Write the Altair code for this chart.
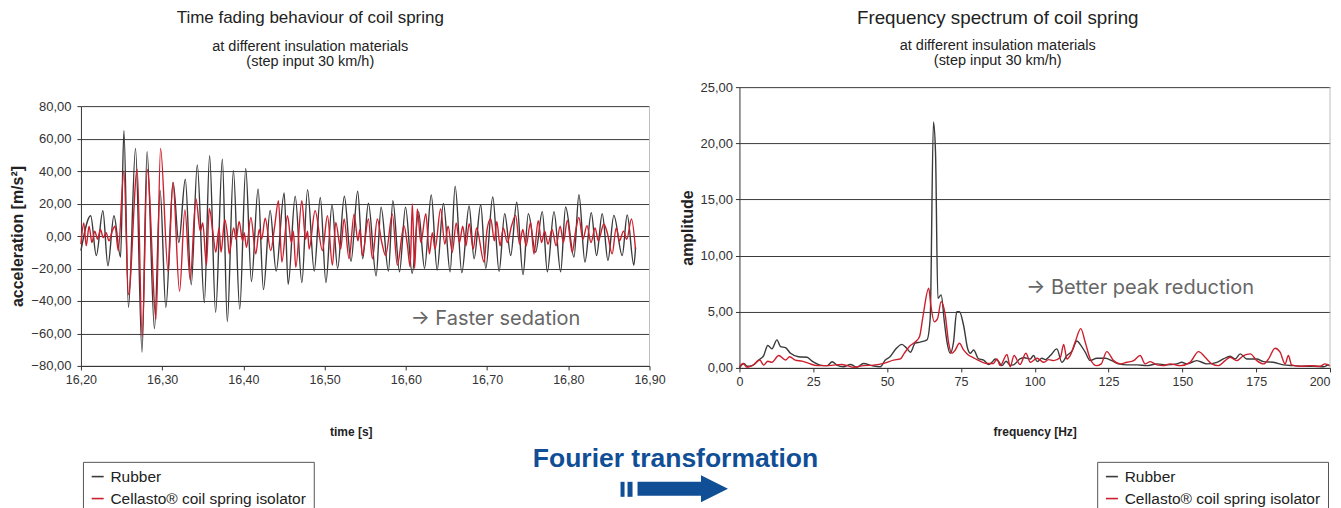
import altair as alt
import pandas as pd

FONT = "Liberation Sans"
SERIES = ["Rubber", "Cellasto® coil spring isolator"]
COLORS = ["#3a3a3a", "#cc1f2d"]

# ---------------- time signal ----------------
rubber_time = [16.2000, 16.2120, 16.2189, 16.2270, 16.2332, 16.2406, 16.2488, 16.2529, 16.2585, 16.2672,
               16.2752, 16.2814, 16.2905, 16.2975, 16.3045, 16.3135, 16.3205, 16.3285, 16.3358, 16.3432,
               16.3519, 16.3584, 16.3658, 16.3741, 16.3802, 16.3877, 16.3955, 16.4029, 16.4099, 16.4181,
               16.4247, 16.4329, 16.4403, 16.4502, 16.4551, 16.4638, 16.4720, 16.4790, 16.4872, 16.4947,
               16.5016, 16.5091, 16.5160, 16.5243, 16.5325, 16.5407, 16.5469, 16.5539, 16.5634, 16.5695,
               16.5786, 16.5840, 16.5922, 16.5996, 16.6078, 16.6156, 16.6230, 16.6313, 16.6385, 16.6463,
               16.6545, 16.6607, 16.6689, 16.6779, 16.6840, 16.6922, 16.6984, 16.7070, 16.7148, 16.7217,
               16.7291, 16.7365, 16.7443, 16.7508, 16.7598, 16.7680, 16.7742, 16.7824, 16.7906, 16.7967,
               16.8070, 16.8131, 16.8205, 16.8283, 16.8348, 16.8418, 16.8488, 16.8561, 16.8664, 16.8725,
               16.8807, 16.8828]
rubber_acc = [-9, 12.5, -12, 15.6, -18.3, 12.5, -13, 64.8, -44, 54,
              -71.5, 52, -57, 28, -44, 33, -4, 35, -30, 43.7,
              -41, 49.4, -47, 47.3, -52.7, 40.2, -45, 41.6, -28, 29,
              -33, 15.7, -21.6, 26.5, -29.8, 24.5, -28.6, 28.6, -21.6, 23.7,
              -28.6, 19.2, -20, 24.5, -15.5, 27.6, -14, 20.2, -24.5, 17.8,
              -21.6, 21.8, -22, 17.8, -23, 15, -20, 25.3, -21, 20,
              -22, 30.7, -22.6, 18.5, -14, 19.3, -20, 24, -21.7, 13.8,
              -12, 20.8, -23.8, 13.8, -10, 15, -22, 15, -22, 17.9,
              -13, 25.4, -16, 14.4, -12, 13.8, -15, 12.7, -12, 13,
              -18, -7]

cellasto_time = [16.2000, 16.2035, 16.2065, 16.2100, 16.2135, 16.2170, 16.2205, 16.2240, 16.2275, 16.2310,
                 16.2345, 16.2385, 16.2420, 16.2459, 16.2529, 16.2585, 16.2693, 16.2754, 16.2816, 16.2926,
                 16.2980, 16.3074, 16.3132, 16.3214, 16.3280, 16.3345, 16.3415, 16.3470, 16.3500, 16.3545,
                 16.3580, 16.3625, 16.3660, 16.3700, 16.3725, 16.3770, 16.3805, 16.3825, 16.3880, 16.3910,
                 16.3948, 16.3990, 16.4010, 16.4038, 16.4092, 16.4153, 16.4195, 16.4225, 16.4268, 16.4337,
                 16.4385, 16.4432, 16.4473, 16.4543, 16.4590, 16.4615, 16.4645, 16.4719, 16.4765, 16.4790,
                 16.4809, 16.4883, 16.4973, 16.5035, 16.5096, 16.5137, 16.5198, 16.5240, 16.5301, 16.5363,
                 16.5410, 16.5435, 16.5465, 16.5539, 16.5588, 16.5649, 16.5700, 16.5751, 16.5834, 16.5895,
                 16.5977, 16.6020, 16.6053, 16.6080, 16.6108, 16.6141, 16.6185, 16.6246, 16.6290, 16.6326,
                 16.6360, 16.6428, 16.6480, 16.6520, 16.6572, 16.6620, 16.6660, 16.6700, 16.6740, 16.6780,
                 16.6830, 16.6870, 16.6963, 16.7000, 16.7045, 16.7090, 16.7120, 16.7160, 16.7200, 16.7250,
                 16.7300, 16.7352, 16.7400, 16.7440, 16.7480, 16.7536, 16.7577, 16.7630, 16.7670, 16.7710,
                 16.7750, 16.7800, 16.7850, 16.7900, 16.7940, 16.7988, 16.8048, 16.8090, 16.8130, 16.8180,
                 16.8230, 16.8280, 16.8330, 16.8370, 16.8437, 16.8480, 16.8540, 16.8590, 16.8630, 16.8680,
                 16.8720, 16.8778, 16.8827]
cellasto_acc = [-5, 8, -6, 6, -4, 3, -2, 4, -1, 2,
                -3, 3, 6, -9, 40, -36, 41, -62, 41, -51,
                54, -22, 33, -34, 16, -27, 23, 3, 8, -18,
                17, 2, -10, 5, -10, 10, 0, -11, 5, -2,
                9, -3, 2, -7, 11.5, -11, 4, -2, 10.9, -9,
                6, 21.7, -16, 12.5, -4, 3, -19.3, 21.7, -2, 3,
                -8, 15.6, -9, 12.5, -18, 8.4, -8, 10.5, -14, 13.5,
                -3, 4, -12, 10.5, -14, 10.5, -3, -12, 13.5, -18,
                6.4, -6, -19, 19.7, -20, 16.6, -4, 13.7, -11, 2,
                -8, 16.6, -5, 6, -10, 8, -4, 6, -6, 7.6,
                -8, 5, -16, 4, 10.7, -3, 9, -6, 5, -4,
                6, 12.7, -5, 4, -6, 8.4, -11, 9.4, -4, 3,
                -5, 4, -6, 6, -4, 9.6, -10, 3, 11.5, -2,
                6.4, -4, 5, -3, 7.4, 2, -11, 5, -3, 3,
                -2, 10.5, -8]

# ---------------- frequency spectrum ----------------
rubber_freq = [0, 1.5, 2.6, 4.3, 6.5, 8.2, 9.6, 11, 12.7, 13.9,
               15.6, 17.3, 20, 22.9, 24.6, 27.4, 29.7, 31.4, 33, 35.2,
               37.6, 39.8, 42, 44.9, 47.7, 49.4, 51, 53, 55, 56.5,
               57.9, 59.5, 61.2, 63.5, 64.6, 65.7, 66.4, 67.2, 68.3, 69.4,
               70.3, 71.4, 72.5, 73.6, 74.5, 75.9, 77.3, 78.2, 79.3, 81,
               82.7, 84.4, 85.5, 86.6, 87.7, 88.9, 90.3, 91.7, 93, 95,
               96.5, 98.5, 99.6, 100.8, 102.4, 103.6, 105.3, 107.5, 109.2, 110.9,
               112.6, 114.3, 115.4, 117.1, 118.8, 121, 123.9, 126.1, 128.4, 131.2,
               134.6, 138, 141.4, 144.7, 148.1, 149.8, 151.5, 154.9, 158.3, 161.7,
               163.9, 166.2, 167.9, 169.6, 171.8, 175.2, 177.5, 180.8, 184.2, 187.6,
               191, 194.4, 197.8, 199.5, 200]
rubber_amp = [0, 0.4, 0.15, 0.2, 0.7, 1.1, 2.0, 1.7, 2.5, 1.9,
              1.8, 1.3, 1.0, 0.95, 0.6, 0.25, 0.2, 0.55, 0.25, 0.1,
              0.3, 0.06, 0.4, 0.2, 0.1, 0.7, 1.0, 1.7, 2.1, 1.8,
              1.4, 2.2, 2.3, 2.5, 4.4, 21.9, 19.2, 6.2, 6.5, 4.1,
              2.3, 1.3, 2.3, 5.0, 5.0, 3.8, 1.7, 1.3, 1.6, 0.8,
              0.7, 0.3, 0.5, 0.8, 0.6, 0.2, 0.6, 0.25, 0.3, 0.8,
              0.9, 0.8, 1.1, 0.56, 0.86, 0.74, 1.1, 1.7, 0.5, 1.1,
              1.5, 2.4, 2.1, 1.4, 0.65, 0.86, 0.86, 0.65, 0.36, 0.27,
              0.27, 0.2, 0.36, 0.27, 0.36, 0.5, 0.36, 0.65, 0.36, 0.5,
              0.8, 1.04, 0.8, 1.25, 0.8, 0.8, 0.56, 0.5, 0.27, 0.2,
              0.15, 0.15, 0.1, 0.27, 0.2]

cellasto_freq = [0, 1.2, 2.6, 4.3, 6.9, 8.2, 9.6, 11, 13.3, 15.6,
                 17, 18.9, 21.2, 23.5, 26.3, 29.7, 31.9, 34.7, 36.5, 38.7,
                 42, 45.4, 48.8, 52.2, 54.5, 55.8, 57.9, 59.5, 61, 62.1,
                 64.1, 64.8, 66, 67.1, 68.3, 69.7, 70.8, 72, 73.1, 74.5,
                 75.9, 77.3, 79.3, 81.5, 83.8, 86, 87.2, 88.3, 90.6, 91.7,
                 93, 95, 97, 98.5, 100.8, 103, 104.7, 106.4, 108.7, 109.8,
                 110.9, 112, 113.7, 115.6, 117.1, 118.8, 121, 122.5, 124.4, 126.7,
                 129, 131.2, 133.5, 135.7, 137.4, 139.1, 141.4, 143.5, 145.9, 149.3,
                 152.6, 155.5, 157.7, 160, 162.2, 164.5, 166.2, 168.4, 170.7, 173,
                 175.2, 177.5, 179.2, 181.4, 183.1, 184.8, 185.9, 187, 189.9, 193.3,
                 196.6, 198.3, 200]
cellasto_amp = [0.1, 0.4, 0.06, 0.2, 0.7, 0.25, 0.6, 0.5, 1.1, 0.7,
                1.0, 0.7, 0.6, 0.4, 0.2, 0.2, 0.25, 0.3, 0.2, 0.06,
                0.2, 0.25, 0.4, 0.7, 0.8, 1.3, 2.0, 2.3, 2.8, 4.5,
                7.1, 5.6, 4.1, 4.4, 5.9, 4.7, 2.3, 1.3, 1.6, 2.2,
                1.6, 1.2, 0.9, 0.6, 0.4, 0.4, 0.8, 0.2, 1.2, 0.1,
                1.1, 0.3, 1.3, 0.5, 0.86, 0.5, 0.74, 0.65, 0.95, 2.1,
                0.8, 1.1, 2.3, 3.5, 2.3, 0.8, 0.2, 0.36, 1.45, 0.65,
                0.36, 0.5, 0.65, 1.1, 0.36, 0.56, 0.27, 0.2, 0.36, 0.2,
                0.5, 1.45, 0.95, 0.36, 0.2, 0.65, 0.95, 0.65, 1.1, 1.25,
                0.65, 0.36, 0.8, 1.75, 1.4, 0.36, 1.1, 0.27, 0.15, 0.2,
                0.15, 0.36, 0.15]

acc_ticks = [-80, -60, -40, -20, 0, 20, 40, 60, 80]
time_ticks = [16.2, 16.3, 16.4, 16.5, 16.6, 16.7, 16.8, 16.9]
amp_ticks = [0, 5, 10, 15, 20, 25]
freq_ticks = [0, 25, 50, 75, 100, 125, 150, 175, 200]

assert len(rubber_time) == len(rubber_acc)
assert len(cellasto_time) == len(cellasto_acc)
assert len(rubber_freq) == len(rubber_amp)
assert len(cellasto_freq) == len(cellasto_amp)

df_tr = pd.DataFrame({"t": rubber_time, "v": rubber_acc, "series": SERIES[0]})
df_tc = pd.DataFrame({"t": cellasto_time, "v": cellasto_acc, "series": SERIES[1]})
df_fr = pd.DataFrame({"f": rubber_freq, "a": rubber_amp, "series": SERIES[0]})
df_fc = pd.DataFrame({"f": cellasto_freq, "a": cellasto_amp, "series": SERIES[1]})
one = pd.DataFrame({"k": [0]})

COMMA2 = "replace(format(datum.value, '.2f'), '.', ',')"
color_scale = alt.Scale(domain=SERIES, range=COLORS)
SUBTITLE = ["at different insulation materials", "(step input 30 km/h)"]


def legend(x):
    return alt.Legend(orient="none", legendX=x, legendY=375, title=None,
                      symbolType="stroke", symbolSize=144, symbolStrokeWidth=1.6,
                      labelFont=FONT, labelFontSize=15.5, labelColor="#222", labelLimit=400,
                      strokeColor="#555", fillColor="white", padding=7,
                      rowPadding=5, labelOffset=5)


# ---------------- left panel ----------------
LW, LH = 569, 279
xl = alt.X("t:Q", scale=alt.Scale(domain=[16.2, 16.9], nice=False, zero=False),
           axis=alt.Axis(values=time_ticks, labelExpr=COMMA2, title="time [s]",
                         titleFont=FONT, titleFontSize=12, titleFontWeight="bold",
                         titleColor="#222", titlePadding=40, titleX=270, grid=False,
                         tickSize=4, tickColor="#333", domainColor="#333",
                         labelFont=FONT, labelFontSize=12.5, labelColor="#333",
                         labelPadding=4, labelFlush=False))
yl = alt.Y("v:Q", scale=alt.Scale(domain=[-80, 80], range=[279, 19], nice=False),
           axis=alt.Axis(values=acc_ticks, labelExpr=COMMA2, title="acceleration [m/s²]",
                         titleFont=FONT, titleFontSize=16, titleFontWeight="bold",
                         titleColor="#222", titlePadding=5, grid=True,
                         gridColor="#3a3a3a", gridWidth=1, tickSize=4, tickColor="#333",
                         domainColor="#333", labelFont=FONT, labelFontSize=13,
                         labelColor="#333", labelPadding=6))
cl = alt.Color("series:N", scale=color_scale, legend=legend(2))

l_rub = alt.Chart(df_tr).mark_line(strokeWidth=1.4, interpolate="monotone").encode(x=xl, y=yl, color=cl)
l_cel = alt.Chart(df_tc).mark_line(strokeWidth=1.4, interpolate="monotone").encode(x=xl, y=yl, color=cl)
l_border = alt.Chart(one).mark_rule(color="#bdbdbd", strokeWidth=1).encode(
    x=alt.value(LW), y=alt.value(19), y2=alt.value(279))
l_note = alt.Chart(one).mark_text(text="→ Faster sedation", font="Inter", fontSize=20,
                                   color="#666", align="left", baseline="middle").encode(
    x=alt.value(330), y=alt.value(232))
fourier = alt.Chart(one).mark_text(text="Fourier transformation", font=FONT, fontSize=26.5,
                                    fontWeight="bold", color="#104e95", align="center",
                                    baseline="middle").encode(x=alt.value(595), y=alt.value(372))
bar1 = alt.Chart(one).mark_rect(color="#104e95").encode(
    x=alt.value(540), x2=alt.value(544), y=alt.value(395), y2=alt.value(410))
bar2 = alt.Chart(one).mark_rect(color="#104e95").encode(
    x=alt.value(547), x2=alt.value(552), y=alt.value(395), y2=alt.value(410))
bar3 = alt.Chart(one).mark_rect(color="#104e95").encode(
    x=alt.value(557), x2=alt.value(622), y=alt.value(395), y2=alt.value(409))
head = alt.Chart(one).mark_point(shape="M -1 -1 L 1 0 L -1 1 Z", filled=True, size=729,
                                 color="#104e95", opacity=1, strokeWidth=0).encode(
    x=alt.value(634), y=alt.value(402))

left = alt.layer(l_rub, l_cel, l_border, l_note, fourier, bar1, bar2, bar3, head).properties(
    width=LW, height=LH,
    title=alt.TitleParams(text="Time fading behaviour of coil spring", subtitle=SUBTITLE,
                          anchor="middle", frame="group", dx=-55, offset=18,
                          font=FONT, fontSize=17, fontWeight="normal", color="#222",
                          subtitleFont=FONT, subtitleFontSize=14.5, subtitleColor="#222",
                          subtitlePadding=13, subtitleLineHeight=15))

# ---------------- right panel ----------------
RW, RH = 591, 281
xr = alt.X("f:Q", scale=alt.Scale(domain=[0, 200], nice=False),
           axis=alt.Axis(values=freq_ticks, format="d", title="frequency [Hz]",
                         titleFont=FONT, titleFontSize=12, titleFontWeight="bold",
                         titleColor="#222", titlePadding=38, grid=False,
                         tickSize=4, tickColor="#333", domainColor="#333",
                         labelFont=FONT, labelFontSize=12.5, labelColor="#333",
                         labelPadding=4, labelFlush=False,
                         labelAlign=alt.condition("datum.value >= 200", alt.value("right"),
                                                  alt.value("center"))))
yr = alt.Y("a:Q", scale=alt.Scale(domain=[0, 25], nice=False),
           axis=alt.Axis(values=amp_ticks, labelExpr=COMMA2, title="amplitude",
                         titleFont=FONT, titleFontSize=16, titleFontWeight="bold",
                         titleColor="#222", titlePadding=4, grid=True,
                         gridColor="#3a3a3a", gridWidth=1, tickSize=4, tickColor="#333",
                         domainColor="#333", labelFont=FONT, labelFontSize=13,
                         labelColor="#333", labelPadding=3))
cr = alt.Color("series:N", scale=color_scale, legend=legend(358))

r_rub = alt.Chart(df_fr).mark_line(strokeWidth=1.4, interpolate="monotone").encode(x=xr, y=yr, color=cr)
r_cel = alt.Chart(df_fc).mark_line(strokeWidth=1.4, interpolate="monotone").encode(x=xr, y=yr, color=cr)
r_border = alt.Chart(one).mark_rule(color="#bdbdbd", strokeWidth=1).encode(
    x=alt.value(RW), y=alt.value(0), y2=alt.value(RH))
r_note = alt.Chart(one).mark_text(text="→ Better peak reduction", font="Inter", fontSize=20,
                                   color="#666", align="left", baseline="middle").encode(
    x=alt.value(287), y=alt.value(201))

right = alt.layer(r_rub, r_cel, r_border, r_note).properties(
    width=RW, height=RH,
    title=alt.TitleParams(text="Frequency spectrum of coil spring", subtitle=SUBTITLE,
                          anchor="middle", frame="group", dx=-37, offset=14,
                          font=FONT, fontSize=18.8, fontWeight="normal", color="#222",
                          subtitleFont=FONT, subtitleFontSize=14.5, subtitleColor="#222",
                          subtitlePadding=11, subtitleLineHeight=15))

chart = alt.hconcat(left, right, spacing=90, bounds="flush").resolve_scale(
    color="independent").properties(
    padding={"left": 1, "top": 0, "right": 0, "bottom": 0},
    background="white").configure_view(stroke=None)

chart.save("out.html", embed_options={"renderer": "svg", "actions": False})
